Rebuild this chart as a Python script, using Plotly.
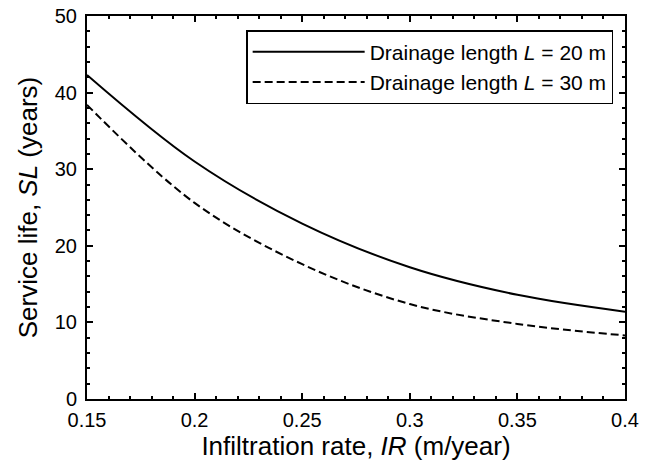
import plotly.graph_objects as go

# Data
infiltration_rate = [0.15, 0.2, 0.25, 0.3, 0.35, 0.4]
service_life_L20 = [42.3, 31.0, 22.9, 17.2, 13.6, 11.4]
service_life_L30 = [38.4, 25.6, 17.6, 12.4, 9.8, 8.3]
series_names = ["Drainage length <i>L</i> = 20 m", "Drainage length <i>L</i> = 30 m"]
x_tickvals = [0.15, 0.2, 0.25, 0.3, 0.35, 0.4]
x_ticktext = ["0.15", "0.2", "0.25", "0.3", "0.35", "0.4"]
y_tickvals = [0, 10, 20, 30, 40, 50]
y_ticktext = ["0", "10", "20", "30", "40", "50"]

FONT = "Liberation Sans, Arial, sans-serif"

fig = go.Figure()
fig.add_trace(go.Scatter(x=infiltration_rate, y=service_life_L20, mode="lines",
                         name=series_names[0],
                         line=dict(color="black", width=2, shape="spline")))
fig.add_trace(go.Scatter(x=infiltration_rate, y=service_life_L30, mode="lines",
                         name=series_names[1],
                         line=dict(color="black", width=2, dash="8px,4px", shape="spline")))

axis_common = dict(
    showline=True, linecolor="black", linewidth=2, mirror="ticks",
    ticks="inside", ticklen=6, tickwidth=2, tickcolor="black",
    showgrid=False, zeroline=False, automargin=False,
    tickfont=dict(family=FONT, size=20, color="black"),
)

fig.update_xaxes(range=[0.15, 0.4], tickvals=x_tickvals, ticktext=x_ticktext,
                 minor=dict(dtick=0.01, ticks="inside", ticklen=3, tickwidth=1.5, tickcolor="black", showgrid=False),
                 title=dict(text="Infiltration rate, <i>IR</i> (m/year)",
                            font=dict(family=FONT, size=26, color="black"), standoff=4),
                 ticklabelstandoff=2,
                 **axis_common)
fig.update_yaxes(range=[0, 50], tickvals=y_tickvals, ticktext=y_ticktext,
                 minor=dict(dtick=2, ticks="inside", ticklen=3, tickwidth=1.5, tickcolor="black", showgrid=False),
                 title=dict(text="Service life, <i>SL</i> (years)",
                            font=dict(family=FONT, size=26, color="black"), standoff=10),
                 ticklabelstandoff=4,
                 **axis_common)

fig.update_layout(
    width=650, height=465,
    margin=dict(l=87, r=25, t=16, b=66),
    paper_bgcolor="white", plot_bgcolor="white",
    font=dict(family=FONT, color="black"),
    legend=dict(x=0.978, y=0.963, xanchor="right", yanchor="top",
                bgcolor="white", bordercolor="black", borderwidth=1.5,
                font=dict(family=FONT, size=21, color="black"),
                itemwidth=112, tracegroupgap=0),
    showlegend=True,
)

fig.write_html("out.html")
